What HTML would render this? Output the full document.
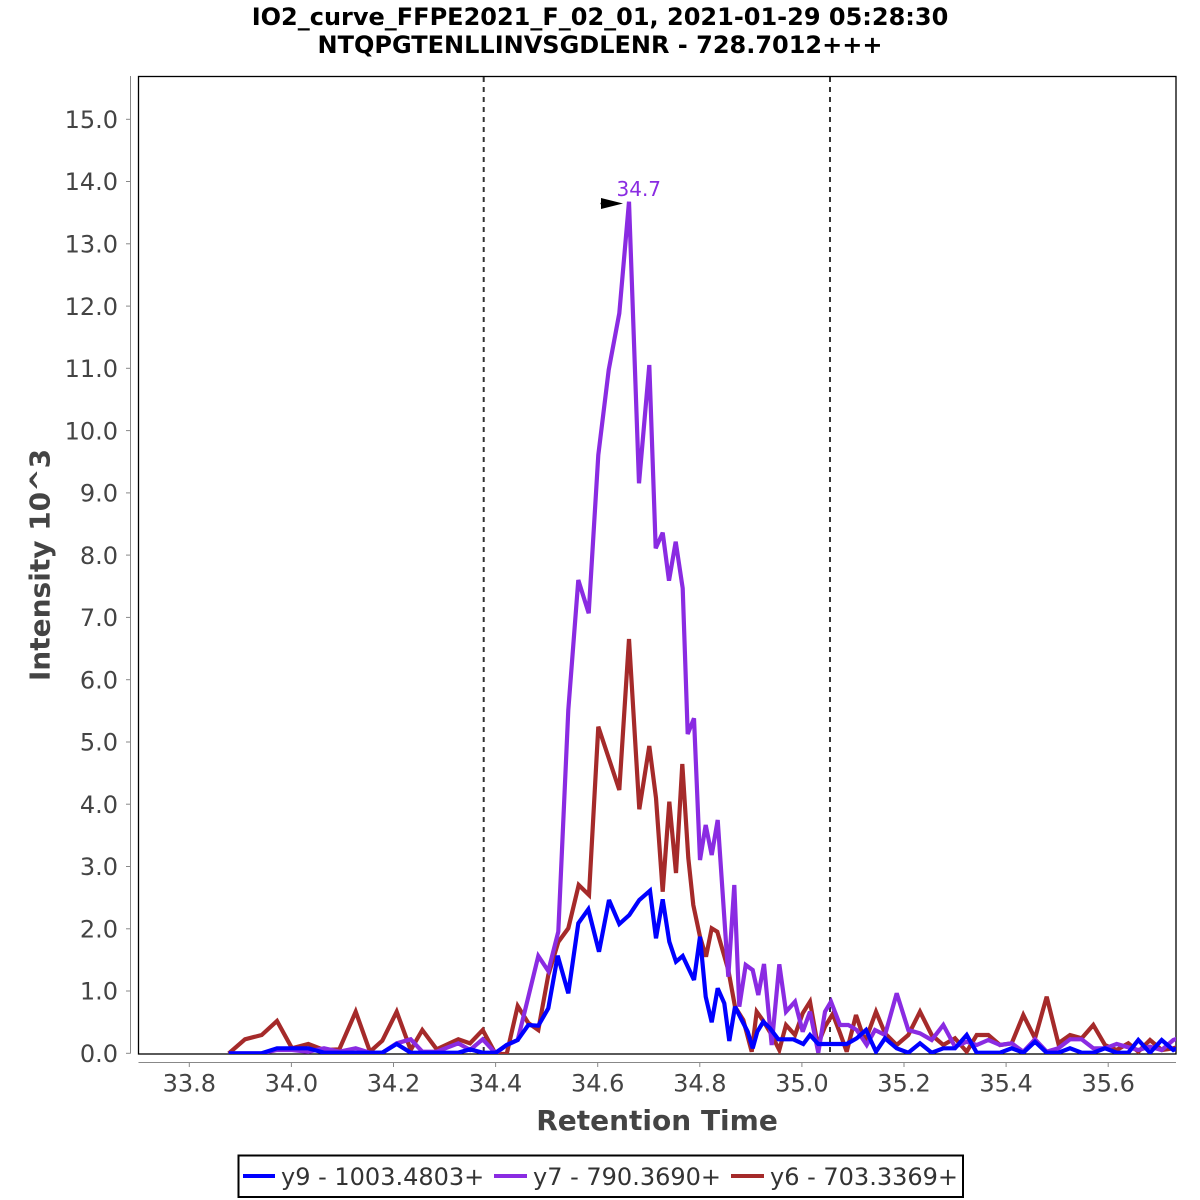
<!DOCTYPE html>
<html>
<head>
<meta charset="utf-8">
<style>
html,body{margin:0;padding:0;background:#fff;}
svg{display:block;}
text{font-family:"DejaVu Sans","Liberation Sans",sans-serif;}
</style>
</head>
<body>
<svg width="1200" height="1200" viewBox="0 0 1200 1200" xmlns="http://www.w3.org/2000/svg">
<defs>
<clipPath id="plot"><rect x="138.5" y="76.5" width="1037.5" height="977.5"/></clipPath>
</defs>
<rect width="1200" height="1200" fill="#fff"/>

<!-- Title -->
<text x="600" y="25" font-size="24" font-weight="bold" text-anchor="middle" fill="#000">IO2_curve_FFPE2021_F_02_01, 2021-01-29 05:28:30</text>
<text x="600" y="53" font-size="24" font-weight="bold" text-anchor="middle" fill="#000">NTQPGTENLLINVSGDLENR - 728.7012+++</text>

<!-- Y axis -->
<line x1="130.5" y1="76" x2="130.5" y2="1053.5" stroke="#888" stroke-width="1"/>
<g stroke="#888" stroke-width="1">
<line x1="126" y1="1053.3" x2="130.5" y2="1053.3"/>
<line x1="126" y1="991.0" x2="130.5" y2="991.0"/>
<line x1="126" y1="928.8" x2="130.5" y2="928.8"/>
<line x1="126" y1="866.5" x2="130.5" y2="866.5"/>
<line x1="126" y1="804.2" x2="130.5" y2="804.2"/>
<line x1="126" y1="742.0" x2="130.5" y2="742.0"/>
<line x1="126" y1="679.7" x2="130.5" y2="679.7"/>
<line x1="126" y1="617.4" x2="130.5" y2="617.4"/>
<line x1="126" y1="555.1" x2="130.5" y2="555.1"/>
<line x1="126" y1="492.9" x2="130.5" y2="492.9"/>
<line x1="126" y1="430.6" x2="130.5" y2="430.6"/>
<line x1="126" y1="368.3" x2="130.5" y2="368.3"/>
<line x1="126" y1="306.1" x2="130.5" y2="306.1"/>
<line x1="126" y1="243.8" x2="130.5" y2="243.8"/>
<line x1="126" y1="181.5" x2="130.5" y2="181.5"/>
<line x1="126" y1="119.3" x2="130.5" y2="119.3"/>
</g>
<g font-size="24" fill="#444" text-anchor="end">
<text x="118" y="1062">0.0</text>
<text x="118" y="999.7">1.0</text>
<text x="118" y="937.5">2.0</text>
<text x="118" y="875.2">3.0</text>
<text x="118" y="812.9">4.0</text>
<text x="118" y="750.7">5.0</text>
<text x="118" y="688.4">6.0</text>
<text x="118" y="626.1">7.0</text>
<text x="118" y="563.8">8.0</text>
<text x="118" y="501.6">9.0</text>
<text x="118" y="439.3">10.0</text>
<text x="118" y="377.0">11.0</text>
<text x="118" y="314.8">12.0</text>
<text x="118" y="252.5">13.0</text>
<text x="118" y="190.2">14.0</text>
<text x="118" y="128.0">15.0</text>
</g>
<text transform="translate(49.5,565) rotate(-90)" font-size="28" font-weight="bold" fill="#444" text-anchor="middle">Intensity 10^3</text>

<!-- X axis -->
<line x1="138.5" y1="1062.5" x2="1176" y2="1062.5" stroke="#888" stroke-width="1"/>
<g stroke="#888" stroke-width="1">
<line x1="189.3" y1="1062.5" x2="189.3" y2="1067"/>
<line x1="291.4" y1="1062.5" x2="291.4" y2="1067"/>
<line x1="393.5" y1="1062.5" x2="393.5" y2="1067"/>
<line x1="495.6" y1="1062.5" x2="495.6" y2="1067"/>
<line x1="597.7" y1="1062.5" x2="597.7" y2="1067"/>
<line x1="699.8" y1="1062.5" x2="699.8" y2="1067"/>
<line x1="801.9" y1="1062.5" x2="801.9" y2="1067"/>
<line x1="904.0" y1="1062.5" x2="904.0" y2="1067"/>
<line x1="1006.1" y1="1062.5" x2="1006.1" y2="1067"/>
<line x1="1108.2" y1="1062.5" x2="1108.2" y2="1067"/>
</g>
<g font-size="24" fill="#444" text-anchor="middle">
<text x="189.3" y="1091.5">33.8</text>
<text x="291.4" y="1091.5">34.0</text>
<text x="393.5" y="1091.5">34.2</text>
<text x="495.6" y="1091.5">34.4</text>
<text x="597.7" y="1091.5">34.6</text>
<text x="699.8" y="1091.5">34.8</text>
<text x="801.9" y="1091.5">35.0</text>
<text x="904.0" y="1091.5">35.2</text>
<text x="1006.1" y="1091.5">35.4</text>
<text x="1108.2" y="1091.5">35.6</text>
</g>
<text x="657" y="1130" font-size="28" font-weight="bold" fill="#444" text-anchor="middle">Retention Time</text>

<!-- Plot box -->
<rect x="138.5" y="76.5" width="1037.5" height="977.5" fill="none" stroke="#000" stroke-width="1.3"/>

<!-- Dashed boundaries -->
<line x1="483.7" y1="77" x2="483.7" y2="1054" stroke="#333" stroke-width="2" stroke-dasharray="5,5"/>
<line x1="830" y1="77" x2="830" y2="1054" stroke="#333" stroke-width="2" stroke-dasharray="5,5"/>

<g clip-path="url(#plot)" fill="none" stroke-width="4.2" stroke-linejoin="miter" stroke-miterlimit="3">
<!-- y6 red -->
<polyline stroke="#a52a2a" points="228.7,1053.5 245,1039.3 261.7,1035 277,1021 292,1048.3 308.3,1044 324,1050 339.3,1049.3 355.7,1011.7 370,1051.7 382.3,1040.7 396.7,1011.7 410.7,1050 422.3,1030 436.7,1049.3 458.3,1039.3 470,1043.3 482.7,1030 495.7,1054 506.7,1054 517.7,1006 528.3,1023 538.3,1030 548.3,975 558.3,942 568.3,928.3 578.7,885 589,895 598.3,726.7 608.7,758 619.3,790 629,639 639.3,809.3 649.3,746 656,798 662.7,891.7 669.3,801.7 676,873 682.3,764 688.3,858 693.3,905 700,936.7 706,956.7 711.7,928.3 717.3,931.7 728.3,970 735,1006.7 743.3,1020 751.7,1051.7 756.7,1011.7 762.7,1020 771.7,1035 779.3,1050 786,1025 795,1035 802.7,1013.3 810,1001.7 817.7,1045 825,1026.7 832.7,1014 840,1033 846.7,1051.7 856,1015 865,1041.7 876,1011.7 885,1033.3 896.7,1045 908.3,1035 920,1011.7 931.7,1035 943.3,1045 955,1038.3 966.7,1051.7 976.7,1035 988.3,1035 1000,1045 1011.7,1043.3 1023.3,1015 1035,1038.3 1046.7,996.7 1058.3,1043.3 1070,1035 1081.7,1038.3 1093.3,1025 1105,1045 1116.7,1050 1128.3,1043.3 1138.3,1051.7 1150,1040 1161.7,1050 1173.3,1048.3 1185,1045"/>
<!-- y7 purple -->
<polyline stroke="#8a2be2" points="228.7,1053.3 245,1053.3 261.7,1053.3 277,1050 292,1050 308.3,1051.7 324,1048.3 339.3,1051.7 355.7,1048.3 370,1052.7 382.3,1052.7 396.7,1043.3 410.7,1039.3 422.3,1051.7 436.7,1051.7 458.3,1043.3 470,1050 482.7,1039.3 495.7,1053.3 506.7,1045 517.7,1040 528.3,997 538.3,956 548.3,971 558.3,931.7 568.3,710 578.3,580 588.7,613.3 598.3,455 608.7,370 619.3,313.3 629,201.7 639,483.3 649.3,365 655.7,548.3 662.7,532.7 669,580.7 675.7,541.7 682.7,588.3 687.7,734 694,718.3 700,860 705.7,825 711.7,855 717.7,820 728.3,976.7 734.3,885 739.3,1006.7 745.7,965 752.7,970 758.3,995 764,964 771.7,1045 779.3,964.3 786,1011.7 795,1001.7 802.7,1031.7 810,1011.7 818.3,1052.7 825,1011.7 831,1001.7 840,1025 848.3,1025 856.7,1030 866.7,1045 875,1030 885,1035 896.7,993.3 908.3,1030 920,1033.3 931.7,1040 943.3,1025 955,1046.7 966.7,1041.7 976.7,1045 988.3,1040 1000,1045 1011.7,1043.3 1023.3,1051.7 1035,1039.3 1046.7,1051.7 1058.3,1048.3 1070,1039.3 1081.7,1039.3 1093.3,1048.3 1105,1048.3 1116.7,1044 1128.3,1047.3 1138.3,1050 1150,1046.7 1161.7,1050 1173.3,1040 1185,1036"/>
<!-- y9 blue -->
<polyline stroke="#0000ff" points="228.7,1053.3 245,1053.3 261.7,1053.3 277,1048.3 292,1048.3 308.3,1048.3 324,1052.7 339.3,1052.7 355.7,1052.7 370,1052.7 382.3,1052.7 396.7,1044 410.7,1052.7 422.3,1052.7 436.7,1052.7 458.3,1052.7 470,1049.3 482.7,1052.7 495.7,1052.7 506.7,1045 517.7,1040 528.3,1025 538.3,1025.7 548.3,1008.3 557.7,955.7 568.3,993.3 578.3,923.3 588.3,909.3 599,951.7 609,900 619.3,924 629.3,915 639.3,900 650,890.7 656,938.3 662.7,899.3 669.3,941.7 676,961.7 682.7,956 689.3,970 694,980 700,936.7 705.7,996.7 711.7,1022.3 717.7,988.3 724.3,1003.3 729.3,1041 735,1006.7 741.7,1020 747.7,1031.7 752.7,1048.3 757.3,1031.7 763.3,1021.7 770,1028.3 778.3,1039.3 793.3,1039.3 803.3,1044 810,1035 818.3,1044 840,1044 846.7,1044 856.7,1038.3 866,1030 876,1051.7 885,1038.3 896.7,1048.3 908.3,1052.7 920,1043.3 931.7,1052.7 943.3,1048.3 955,1048.3 966.7,1035 976.7,1052.7 988.3,1052.7 1000,1052.7 1011.7,1048.3 1023.3,1052.7 1035,1041.7 1046.7,1052.7 1058.3,1052.7 1070,1048.3 1081.7,1052.7 1093.3,1052.7 1105,1048.3 1116.7,1052.7 1128.3,1052.7 1138.3,1040 1150,1052.7 1161.7,1040 1173.3,1050 1185,1045"/>
</g>

<!-- Peak annotation -->
<line x1="600.5" y1="203.5" x2="606" y2="203.5" stroke="#000" stroke-width="1.5"/>
<polygon points="601,198 623,203.5 601,209" fill="#000"/>
<text x="616.5" y="196" font-size="20" fill="#8a2be2">34.7</text>

<!-- Legend -->
<rect x="238.5" y="1155.5" width="724.5" height="41.5" fill="#fff" stroke="#000" stroke-width="2"/>
<line x1="243" y1="1176" x2="275" y2="1176" stroke="#0000ff" stroke-width="4"/>
<text x="281" y="1185" font-size="24" fill="#333">y9 - 1003.4803+</text>
<line x1="494" y1="1176" x2="527" y2="1176" stroke="#8a2be2" stroke-width="4"/>
<text x="533" y="1185" font-size="24" fill="#333">y7 - 790.3690+</text>
<line x1="731" y1="1176" x2="764" y2="1176" stroke="#a52a2a" stroke-width="4"/>
<text x="770" y="1185" font-size="24" fill="#333">y6 - 703.3369+</text>
</svg>
</body>
</html>
